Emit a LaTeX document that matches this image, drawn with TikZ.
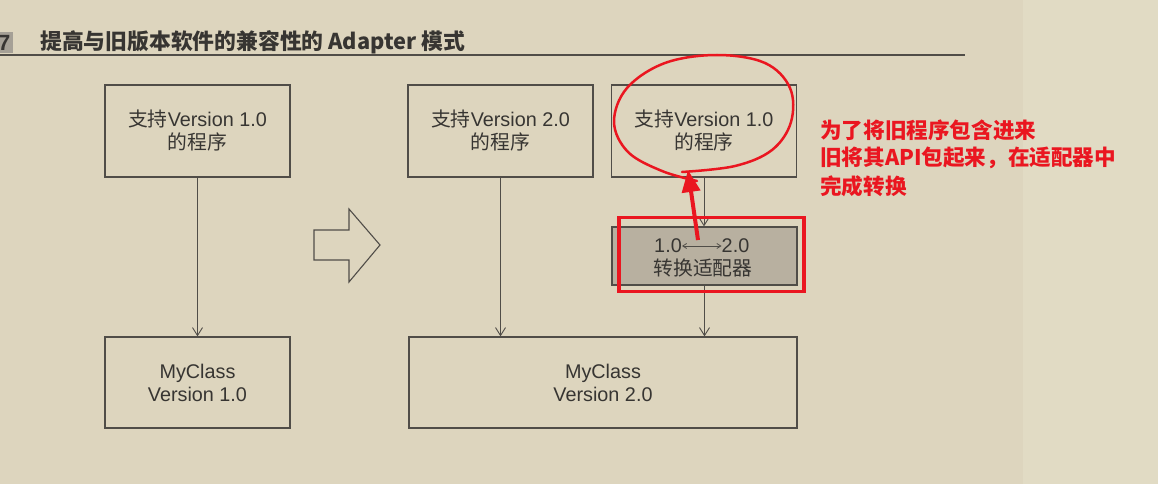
\documentclass[tikz,border=0pt]{standalone}
\usepackage{fontspec}
\setmainfont{Liberation Sans}
\newfontfamily\cjk{Noto Sans CJK SC}
\usetikzlibrary{arrows.meta}
\definecolor{bgA}{RGB}{221,213,190}
\definecolor{bgB}{RGB}{225,219,196}
\definecolor{ink}{RGB}{55,53,50}
\definecolor{boxline}{RGB}{80,77,72}
\definecolor{adfill}{RGB}{184,176,160}
\definecolor{redmk}{RGB}{234,22,32}
\definecolor{tabfill}{RGB}{165,160,150}
\begin{document}
\begin{tikzpicture}[x=1pt,y=-1pt,
  box/.style={draw=boxline, line width=1.2pt, minimum width=185pt, minimum height=92pt,
    inner sep=0pt, align=center, text=ink, font=\fontsize{19.8}{23}\selectfont},
  flow/.style={draw=boxline, line width=0.9pt, -{Straight Barb[length=8pt,width=10pt]}},
  txt/.style={inner sep=0pt, text=ink, font=\fontsize{19.8}{23}\selectfont},
  note/.style={text=redmk, font=\cjk\bfseries\fontsize{21.6}{28}\selectfont, anchor=west, inner sep=0pt}]
% background
\fill[bgA] (0,0) rectangle (1023,484);
\fill[bgB] (1023,0) rectangle (1158,484);
\useasboundingbox (0,0) rectangle (1158,484);
% title
\fill[tabfill] (0,32) rectangle (13,53);
\node[anchor=west, inner sep=0pt, text=ink, font=\bfseries\fontsize{22}{22}\selectfont] (seven) at (-2,43) {7};
\node[anchor=west, inner sep=0pt, text=ink, font=\cjk\bfseries\fontsize{21.8}{25}\selectfont] (title) at (40,42) {提高与旧版本软件的兼容性的 Adapter 模式};
\draw[boxline, line width=1.8pt] (0,55) -- (965,55);
% left side
\node[box] (p1) at (197.5,131) {{\cjk 支持}Version 1.0\\{\cjk 的程序}};
\node[box, minimum height=91pt] (c1) at (197.5,382.5) {MyClass\\Version 1.0};
\draw[flow] (p1.south) -- (c1.north);
% big hollow arrow
\draw[boxline, line width=1.1pt, line join=miter] (314,230) -- (349,230) -- (349,209) -- (380,245) -- (349,282) -- (349,260) -- (314,260) -- cycle;
% right side
\node[box] (p2) at (500.5,131) {{\cjk 支持}Version 2.0\\{\cjk 的程序}};
\node[box] (p3) at (704,131) {{\cjk 支持}Version 1.0\\{\cjk 的程序}};
\node[box, fill=adfill, minimum height=58pt] (adp) at (704.5,256) {};
\node[txt] (v1) at (668,246) {1.0};
\node[txt] (v2) at (735.5,246) {2.0};
\draw[boxline, line width=0.8pt, {Straight Barb[length=4pt,width=5pt]}-{Straight Barb[length=4pt,width=5pt]}] (v1.east) -- (v2.west);
\node[txt, font=\cjk\fontsize{19.8}{23}\selectfont] (conv) at (703,268) {转换适配器};
\node[box, minimum width=388pt, minimum height=91pt] (c2) at (603,382.5) {MyClass\\Version 2.0};
\draw[flow] (p2.south) -- (p2.south |- c2.north);
\draw[flow] (p3.south) -- (p3.south |- adp.north);
\draw[flow] (adp.south) -- (adp.south |- c2.north);
% red annotation
\node[draw=redmk, line width=3.4pt, minimum width=185pt, minimum height=74pt, inner sep=0pt] (hl) at (711.5,254.5) {};
\draw[redmk, line width=2.5pt, line cap=round] plot[smooth, tension=0.6] coordinates {
  (682,172) (735,166) (772,150) (791,122) (790,88) (765,63) (717,55) (665,63) (627,88) (614,122) (628,152) (662,171) (697,181)};
\coordinate (ra0) at (698,240);
\coordinate (ra1) at (688,170);
\draw[redmk, line width=4pt, -{Triangle[length=22pt,width=18pt]}] (ra0) -- (ra1);
\node[note] (n1) at (820,130) {为了将旧程序包含进来};
\node[note] (n2) at (820,158) {旧将其API包起来，在适配器中};
\node[note] (n3) at (820,186) {完成转换};
\end{tikzpicture}
\end{document}
